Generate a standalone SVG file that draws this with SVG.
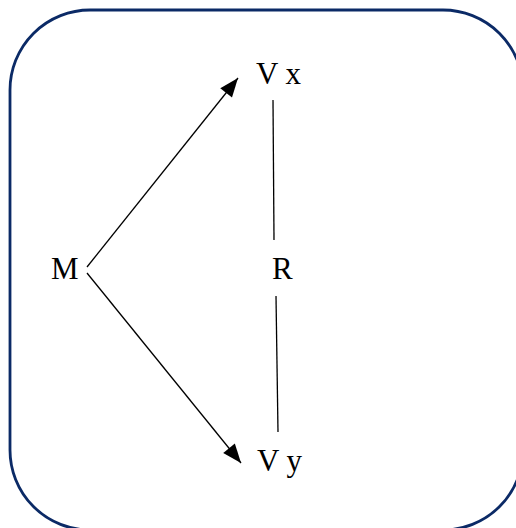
<svg xmlns="http://www.w3.org/2000/svg" width="516" height="528" viewBox="0 0 516 528">
<style>
.lbl{font-family:"Liberation Serif","Times New Roman",serif;font-size:31px;fill:#000}
.ln{stroke:#000;stroke-width:1.3;fill:none}
</style>
<defs>
<marker id="ah" markerUnits="userSpaceOnUse" markerWidth="22" markerHeight="18" viewBox="-20 -9 21 18" refX="0" refY="0" orient="auto">
<path d="M0,0 L-19,-7.5 L-19,7.5 Z" fill="#000"/>
</marker>
</defs>
<rect x="10" y="10" width="513" height="520" rx="80" ry="80" fill="#fff" stroke="#0b2a66" stroke-width="2.8"/>
<g id="connectors">
<line class="ln" x1="87" y1="267" x2="238" y2="78" marker-end="url(#ah)"/>
<line class="ln" x1="87" y1="273" x2="241" y2="463" marker-end="url(#ah)"/>
<line class="ln" x1="273" y1="100" x2="274" y2="240"/>
<line class="ln" x1="276" y1="296" x2="278" y2="432"/>
</g>
<g id="node-M"><text class="lbl" x="51" y="279">M</text></g>
<g id="node-Vx"><text class="lbl" x="256" y="84">V x</text></g>
<g id="node-R"><text class="lbl" x="272" y="279">R</text></g>
<g id="node-Vy"><text class="lbl" x="257" y="471">V y</text></g>
</svg>
